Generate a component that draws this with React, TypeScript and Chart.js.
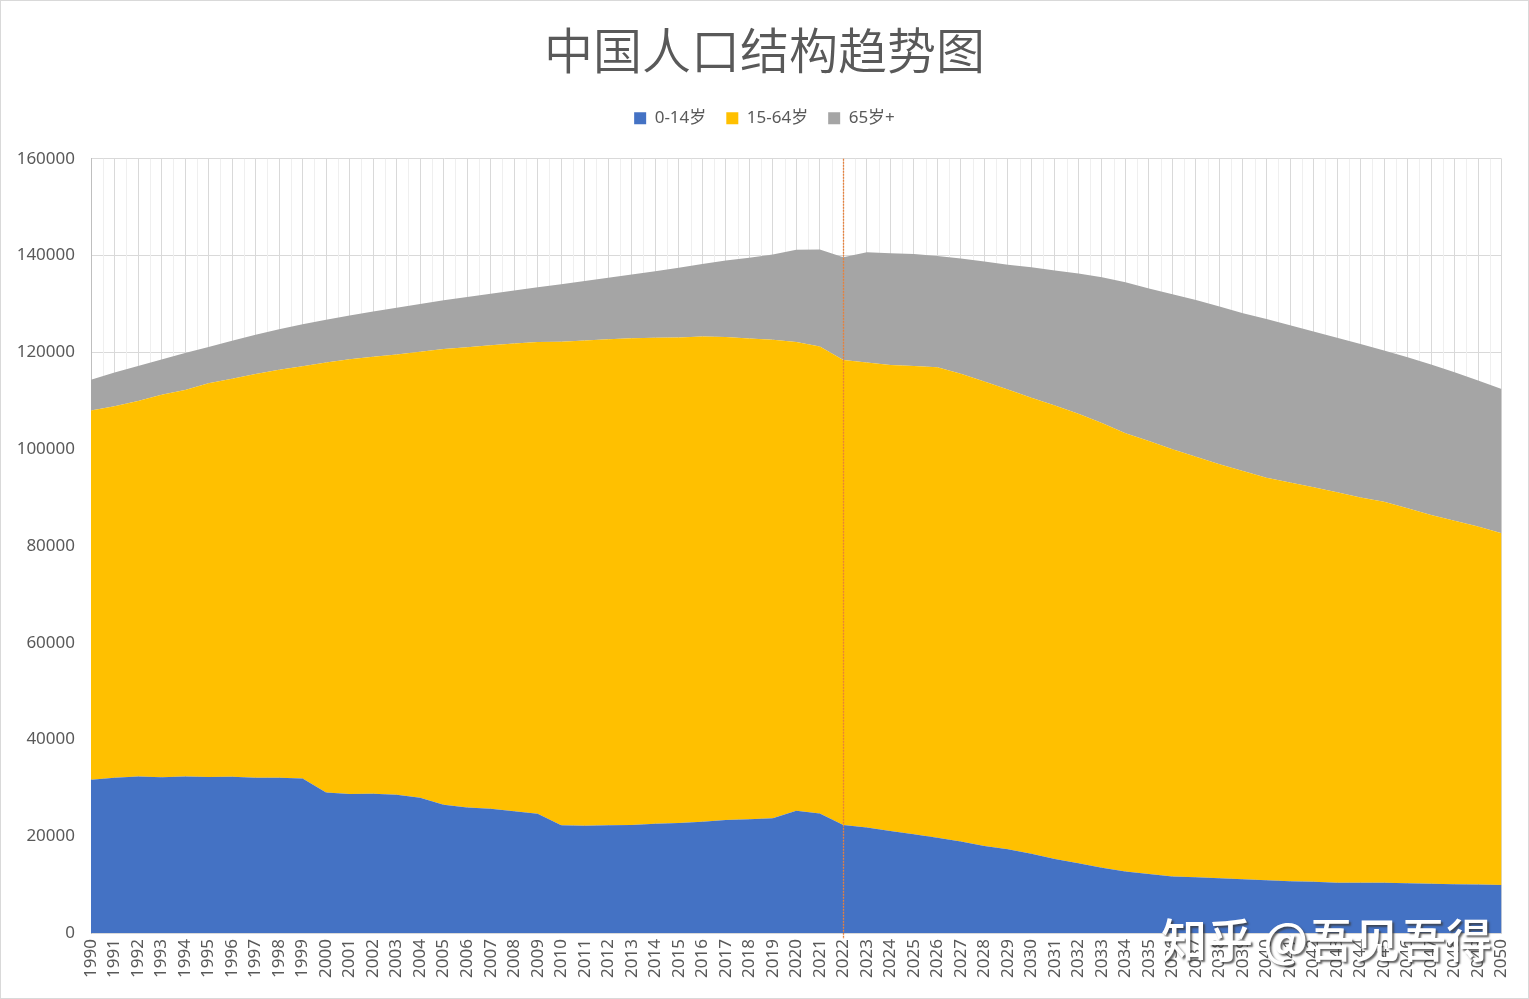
import { useEffect, useRef } from 'react';
import { Chart, registerables, Plugin } from 'chart.js';

Chart.register(...registerables);

const years = [
  '1990', '1991', '1992', '1993', '1994', '1995', '1996', '1997', '1998', '1999',
  '2000', '2001', '2002', '2003', '2004', '2005', '2006', '2007', '2008', '2009',
  '2010', '2011', '2012', '2013', '2014', '2015', '2016', '2017', '2018', '2019',
  '2020', '2021', '2022', '2023', '2024', '2025', '2026', '2027', '2028', '2029',
  '2030', '2031', '2032', '2033', '2034', '2035', '2036', '2037', '2038', '2039',
  '2040', '2041', '2042', '2043', '2044', '2045', '2046', '2047', '2048', '2049',
  '2050',
];

// 0-14岁
const age0to14 = [
  31659, 32095, 32339, 32177, 32360, 32218, 32311, 32093, 32064, 31950,
  29012, 28716, 28774, 28559, 27947, 26504, 25961, 25660, 25166, 24659,
  22259, 22164, 22287, 22329, 22558, 22715, 23008, 23348, 23523, 23689,
  25277, 24678, 22300, 21800, 21100, 20400, 19700, 18900, 18000, 17300,
  16400, 15300, 14400, 13500, 12700, 12200, 11700, 11500, 11300, 11100,
  10900, 10700, 10600, 10400, 10400, 10400, 10300, 10200, 10100, 10000,
  9900,
];

// 15-64岁
const age15to64 = [
  76306, 76791, 77614, 79051, 79868, 81393, 82245, 83448, 84338, 85157,
  88910, 89849, 90302, 90976, 92184, 94197, 95068, 95833, 96680, 97484,
  99938, 100283, 100403, 100582, 100469, 100361, 100260, 99829, 99357, 98910,
  96871, 96526, 96100, 96100, 96300, 96800, 97200, 96700, 96000, 95000,
  94200, 93700, 92900, 91900, 90600, 89500, 88300, 86900, 85600, 84400,
  83200, 82400, 81500, 80700, 79600, 78700, 77500, 76200, 75100, 74000,
  72700,
];

// 65岁+
const age65plus = [
  6368, 6938, 7218, 7289, 7622, 7510, 7833, 8085, 8359, 8679,
  8821, 9062, 9377, 9692, 9857, 10055, 10419, 10636, 10956, 11307,
  11894, 12288, 12714, 13161, 13755, 14386, 15003, 15831, 16658, 17603,
  19064, 20056, 21250, 22800, 23100, 23100, 23000, 23800, 24800, 25800,
  27000, 27900, 29000, 30100, 31200, 31500, 32000, 32400, 32600, 32600,
  32800, 32500, 32200, 31900, 31700, 31300, 31200, 31100, 30700, 30200,
  29800,
];

const markerYear = '2022';
const watermark = '知乎 @吾见吾得';

const FONT = '"Noto Sans", "Noto Sans CJK SC", sans-serif';
const TEXT = '#595959';

// minor vertical grid lines halfway between categories
const minorGrid: Plugin<'line'> = {
  id: 'minorGrid',
  beforeDatasetsDraw(chart) {
    const { ctx, chartArea, scales } = chart;
    const x = scales.x;
    ctx.save();
    ctx.strokeStyle = '#efefef';
    ctx.lineWidth = 1;
    for (let i = 0; i < years.length - 1; i++) {
      const px = Math.round((x.getPixelForValue(i) + x.getPixelForValue(i + 1)) / 2) + 0.5;
      ctx.beginPath();
      ctx.moveTo(px, chartArea.top);
      ctx.lineTo(px, chartArea.bottom);
      ctx.stroke();
    }
    ctx.restore();
  },
};

const markerLine: Plugin<'line'> = {
  id: 'markerLine',
  afterDatasetsDraw(chart) {
    const { ctx, chartArea, scales } = chart;
    const px = Math.round(scales.x.getPixelForValue(years.indexOf(markerYear))) + 0.5;
    ctx.save();
    ctx.strokeStyle = '#E8803A';
    ctx.lineWidth = 1.3;
    ctx.setLineDash([2, 1]);
    ctx.beginPath();
    ctx.moveTo(px, chartArea.top);
    ctx.lineTo(px, chartArea.bottom + 6);
    ctx.stroke();
    ctx.restore();
  },
};

const watermarkText: Plugin<'line'> = {
  id: 'watermarkText',
  afterDraw(chart) {
    const { ctx } = chart;
    ctx.save();
    ctx.font = `500 46px "Noto Sans CJK SC", sans-serif`;
    ctx.textAlign = 'right';
    ctx.textBaseline = 'alphabetic';
    ctx.shadowColor = 'rgba(60,60,60,0.8)';
    ctx.shadowOffsetX = 2;
    ctx.shadowOffsetY = 2;
    ctx.shadowBlur = 2;
    ctx.fillStyle = '#ffffff';
    ctx.fillText(watermark, 1491, 956);
    ctx.restore();
  },
};

const App = () => {
  const chartRef = useRef<HTMLCanvasElement | null>(null);

  useEffect(() => {
    document.body.style.margin = '0';
    if (!chartRef.current) return;
    const ctx = chartRef.current.getContext('2d');
    if (!ctx) return;

    const chart = new Chart(ctx, {
      type: 'line',
      data: {
        labels: years,
        datasets: [
          {
            label: '0-14岁',
            data: age0to14,
            backgroundColor: '#4472C4',
            borderColor: '#4472C4',
            fill: 'origin',
          },
          {
            label: '15-64岁',
            data: age15to64,
            backgroundColor: '#FFC000',
            borderColor: '#FFC000',
            fill: '-1',
          },
          {
            label: '65岁+',
            data: age65plus,
            backgroundColor: '#A5A5A5',
            borderColor: '#A5A5A5',
            fill: '-1',
          },
        ],
      },
      options: {
        responsive: true,
        maintainAspectRatio: false,
        animation: false,
        layout: { padding: 0 },
        elements: {
          point: { radius: 0, hoverRadius: 0 },
          line: { borderWidth: 0, tension: 0 },
        },
        plugins: {
          title: {
            display: true,
            text: '中国人口结构趋势图',
            color: TEXT,
            font: { family: '"Noto Sans CJK SC", sans-serif', size: 49, weight: 350 },
            padding: { top: 20, bottom: 10 },
          },
          legend: {
            display: true,
            labels: {
              color: TEXT,
              font: { family: FONT, size: 17 },
              boxWidth: 12,
              boxHeight: 12,
              padding: 20,
            },
          },
          tooltip: { enabled: false },
        },
        scales: {
          x: {
            type: 'category',
            offset: false,
            grid: { color: '#d9d9d9', offset: false, drawTicks: false },
            border: { color: '#d9d9d9' },
            ticks: {
              autoSkip: false,
              minRotation: 90,
              maxRotation: 90,
              color: TEXT,
              padding: 6,
              font: { family: FONT, size: 17 },
            },
            afterFit: (s) => {
              s.height = 65;
            },
          },
          xTop: {
            type: 'category',
            position: 'top',
            labels: years,
            grid: { display: false },
            border: { display: false },
            ticks: { display: false },
            afterFit: (s) => {
              s.height = 22;
            },
          },
          y: {
            stacked: true,
            min: 0,
            max: 160000,
            grid: { color: '#d9d9d9', drawTicks: false },
            border: { color: '#bfbfbf' },
            ticks: {
              stepSize: 20000,
              color: TEXT,
              padding: 16,
              font: { family: FONT, size: 17 },
              callback: (v) => String(v),
            },
            afterFit: (s) => {
              s.width = 90;
            },
          },
          yRight: {
            type: 'linear',
            position: 'right',
            grid: { display: false },
            border: { display: false },
            ticks: { display: false },
            afterFit: (s) => {
              s.width = 23;
            },
          },
        },
      },
      plugins: [minorGrid, markerLine, watermarkText],
    });

    return () => chart.destroy();
  }, []);

  return (
    <div
      style={{
        width: 1529,
        height: 999,
        boxSizing: 'border-box',
        border: '1px solid #d9d9d9',
        background: '#ffffff',
        position: 'relative',
      }}
    >
      <canvas ref={chartRef} />
    </div>
  );
};

export default App;
